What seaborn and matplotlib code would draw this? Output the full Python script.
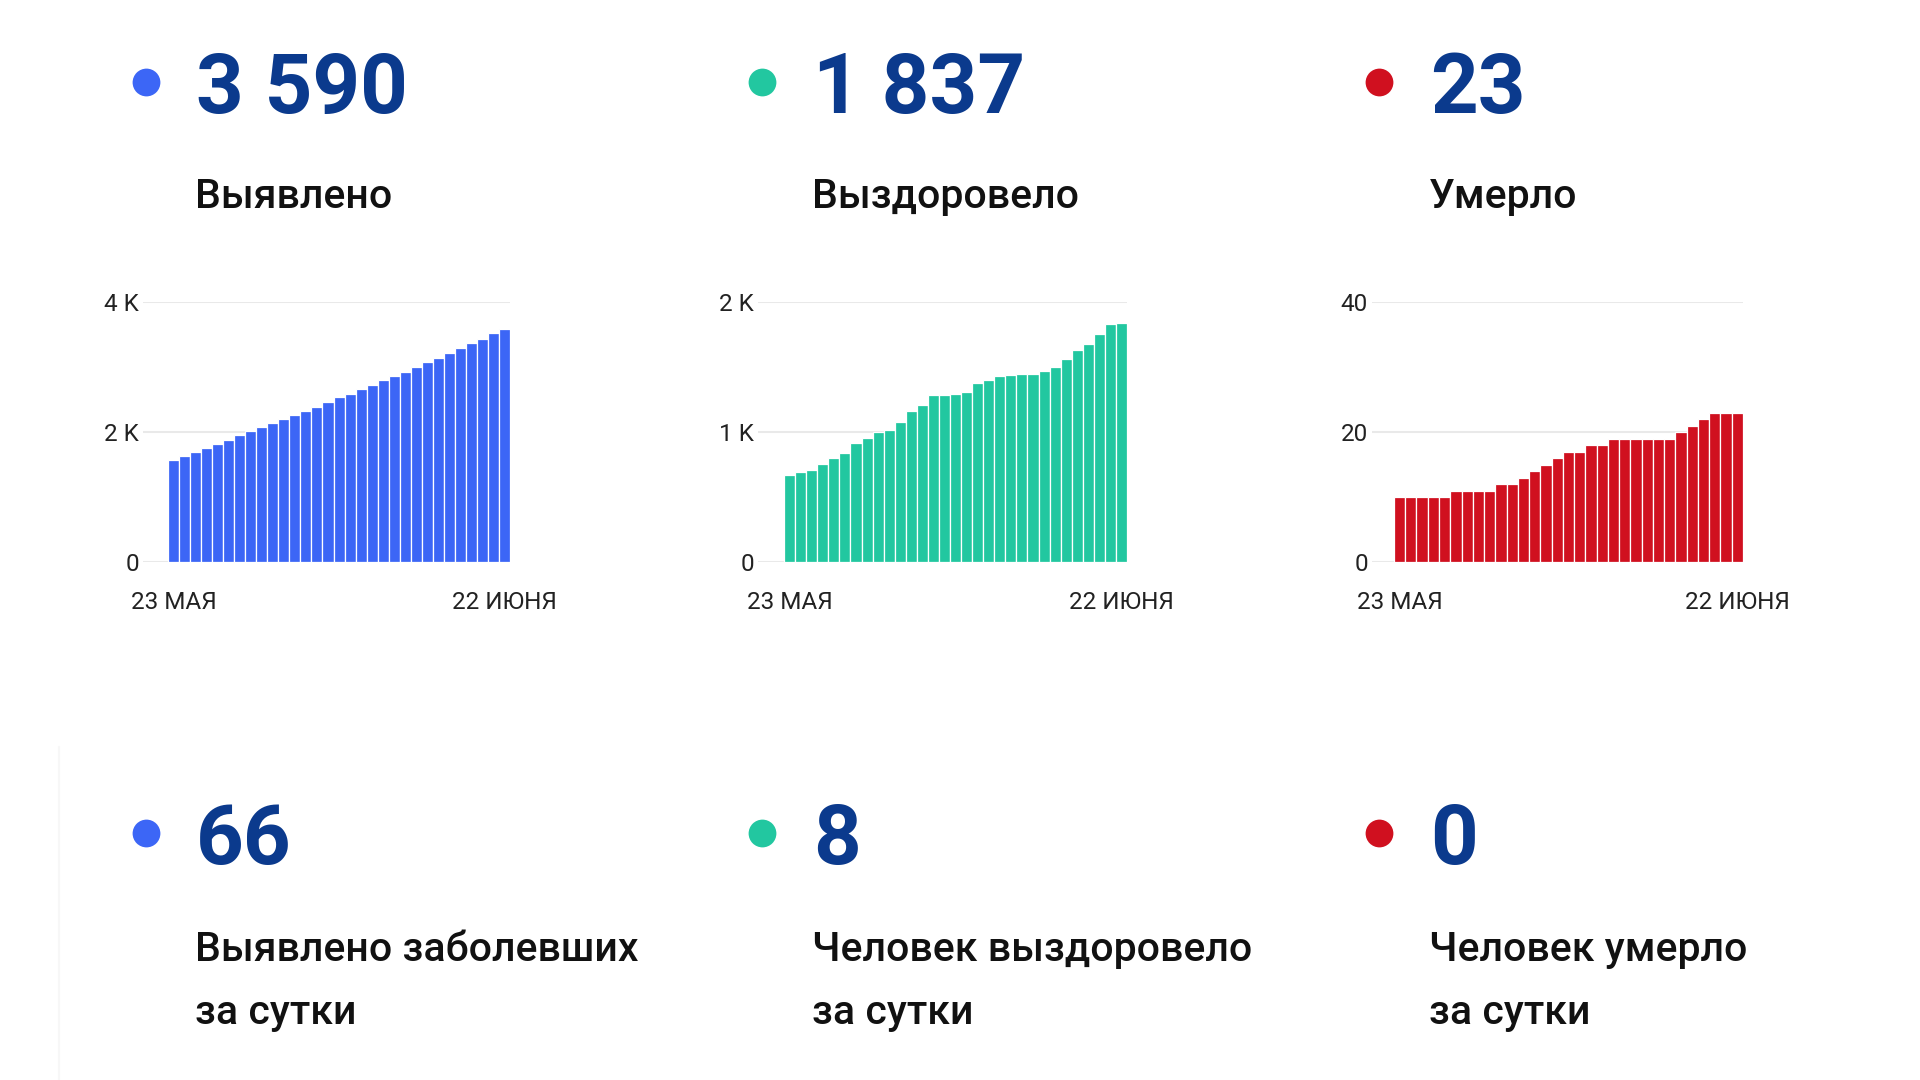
import numpy as np
import pandas as pd
import matplotlib
matplotlib.use("Agg")
import matplotlib.pyplot as plt
import seaborn as sns

# данные: нарастающий итог с 23 мая по 22 июня (31 день)
days = list(range(31))
vyyavleno = [1562, 1624, 1686, 1747, 1820, 1881, 1948, 2010, 2072, 2134, 2201,
             2268, 2325, 2387, 2459, 2531, 2588, 2655, 2722, 2799, 2861, 2928,
             3000, 3077, 3144, 3216, 3289, 3366, 3438, 3521, 3590]
vyzdorovelo = [673, 689, 705, 756, 797, 839, 919, 955, 999, 1014, 1079,
               1164, 1208, 1288, 1288, 1293, 1308, 1375, 1399, 1432, 1435, 1448,
               1450, 1468, 1502, 1561, 1631, 1680, 1757, 1827, 1837]
umerlo = [10, 10, 10, 10, 10, 11, 11, 11, 11, 12, 12,
          13, 14, 15, 16, 17, 17, 18, 18, 19, 19, 19,
          19, 19, 19, 20, 21, 22, 23, 23, 23]

totals = ["3 590", "1 837", "23"]
total_labels = ["Выявлено", "Выздоровело", "Умерло"]
daily = ["66", "8", "0"]
daily_labels = [["Выявлено заболевших", "за сутки"],
                ["Человек выздоровело", "за сутки"],
                ["Человек умерло", "за сутки"]]
date_labels = ["23 МАЯ", "22 ИЮНЯ"]
ytick_vals = [[0, 2000, 4000], [0, 1000, 2000], [0, 20, 40]]
ytick_text = [["0", "2 K", "4 K"], ["0", "1 K", "2 K"], ["0", "20", "40"]]

colors = ["#3c66f6", "#22c7a0", "#d0101f"]
navy = "#0b3a8d"

sns.set_theme(style="white")
plt.rcParams["font.family"] = ["Roboto", "DejaVu Sans"]

fig = plt.figure(figsize=(19.2, 10.8), dpi=100)
fig.patch.set_facecolor("white")

# слой для текста и точек в пикселях
over = fig.add_axes([0, 0, 1, 1])
over.set_xlim(0, 1920)
over.set_ylim(1080, 0)
over.axis("off")

col_dot = [146, 762, 1379]
col_text = [196, 813, 1430]

over.plot([59, 59], [747, 1080], color="#f7f7f7", lw=1.5)

for i in range(3):
    # верхний ряд
    over.scatter([col_dot[i]], [82], s=400, color=colors[i], linewidths=0)
    over.text(col_text[i], 113, totals[i], fontsize=60, fontweight="bold",
              color=navy, va="baseline", ha="left")
    over.text(col_text[i] - 1, 208, total_labels[i], fontsize=29.5, fontweight="medium",
              color="#111111", va="baseline", ha="left")
    # нижний ряд
    over.scatter([col_dot[i]], [833], s=400, color=colors[i], linewidths=0)
    over.text(col_text[i], 864, daily[i], fontsize=60, fontweight="bold",
              color=navy, va="baseline", ha="left")
    over.text(col_text[i] - 1, 961, daily_labels[i][0], fontsize=29.5, fontweight="medium",
              color="#111111", va="baseline", ha="left")
    over.text(col_text[i] - 1, 1024, daily_labels[i][1], fontsize=29.5, fontweight="medium",
              color="#111111", va="baseline", ha="left")

series = [vyyavleno, vyzdorovelo, umerlo]
ax_left = [143, 758, 1372]
ax_width = [367, 369, 371]
x_start = [-2.77, -2.86, -2.45]

for i in range(3):
    ax = fig.add_axes([ax_left[i] / 1920, (1080 - 562) / 1080,
                       ax_width[i] / 1920, 260 / 1080])
    df = pd.DataFrame({"day": days, "value": series[i]})
    sns.barplot(data=df, x="day", y="value", color=colors[i], width=1.0,
                edgecolor="white", linewidth=0.9, saturation=1, ax=ax, zorder=3)
    ax.set_xlim(x_start[i], 30.5)
    ax.set_ylim(0, ytick_vals[i][-1])
    ax.set_yticks(ytick_vals[i])
    ax.set_yticklabels(ytick_text[i])
    ax.set_xticks([0, 30])
    ax.set_xticklabels(date_labels)
    ax.set_xlabel("")
    ax.set_ylabel("")
    ax.grid(axis="y", color="#e9e9e9", lw=1.5, zorder=0)
    ax.grid(axis="x", visible=False)
    for s in ax.spines.values():
        s.set_visible(False)
    ax.tick_params(axis="y", length=0, pad=3, labelsize=17.5, labelcolor="#222222")
    ax.tick_params(axis="x", length=0, pad=21, labelsize=17.5, labelcolor="#222222")
    ax.set_facecolor("none")

fig.savefig("out.png", dpi=100, facecolor="white")
